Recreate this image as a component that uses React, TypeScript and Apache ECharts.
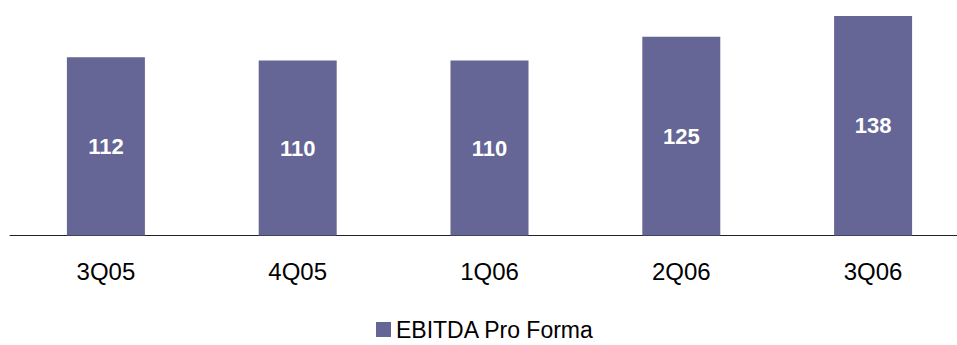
import React, { useEffect, useRef } from "react";
import * as echarts from "echarts";

const quarters = ["3Q05", "4Q05", "1Q06", "2Q06", "3Q06"];
const ebitdaProForma = [112, 110, 110, 125, 138];
const seriesName = "EBITDA Pro Forma";

export default function App() {
  const ref = useRef<HTMLDivElement>(null);

  useEffect(() => {
    if (!ref.current) return;
    const chart = echarts.init(ref.current, null, { renderer: "svg" });
    chart.setOption({
      animation: false,
      textStyle: { fontFamily: "Liberation Sans, Arial, sans-serif" },
      grid: { left: 10, right: 0, top: 16, bottom: 109.5, containLabel: false },
      legend: {
        data: [seriesName],
        left: 376,
        top: 318,
        padding: 0,
        itemWidth: 15,
        itemHeight: 15,
        itemGap: 6,
        icon: "rect",
        textStyle: {
          fontSize: 23,
          lineHeight: 20,
          color: "#000",
          fontFamily: "Liberation Sans, Arial, sans-serif",
        },
      },
      xAxis: {
        type: "category",
        data: quarters,
        axisLine: { lineStyle: { color: "#222", width: 1 } },
        axisTick: { show: false },
        axisLabel: { fontSize: 24, color: "#000", margin: 24 },
      },
      yAxis: {
        type: "value",
        min: 0,
        max: 138,
        show: false,
        splitLine: { show: false },
      },
      series: [
        {
          name: seriesName,
          type: "bar",
          data: ebitdaProForma,
          barWidth: 78,
          itemStyle: { color: "#656596" },
          label: {
            show: true,
            position: "inside",
            color: "#fff",
            fontSize: 22,
            fontWeight: "bold",
          },
        },
      ],
    });
    return () => chart.dispose();
  }, []);

  // The plot area runs a little past the right edge of the visible frame.
  return (
    <div style={{ position: "absolute", left: 0, top: 0, width: 957, height: 345, overflow: "hidden", background: "#fff" }}>
      <div ref={ref} style={{ width: 969, height: 345 }} />
    </div>
  );
}
